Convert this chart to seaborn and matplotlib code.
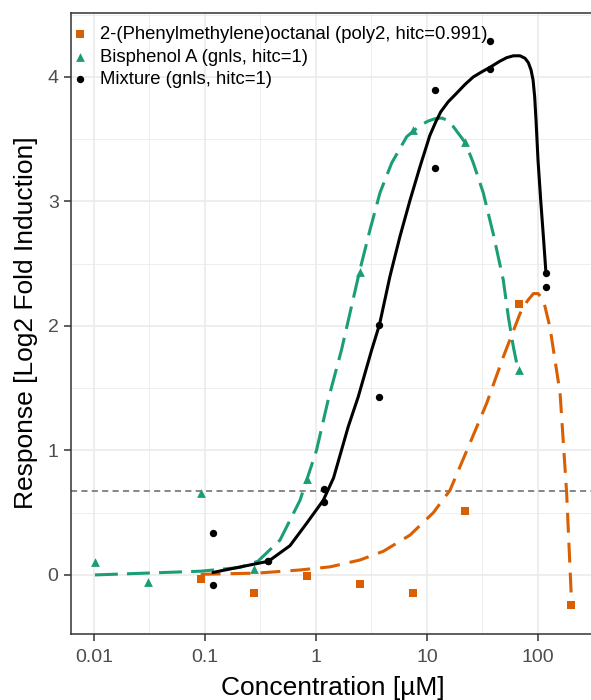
import matplotlib
matplotlib.use("Agg")
import matplotlib.pyplot as plt
import seaborn as sns
import pandas as pd
from matplotlib.ticker import FixedLocator, FixedFormatter, NullFormatter

# ---------------- data ----------------
series_labels = ["2-(Phenylmethylene)octanal (poly2, hitc=0.991)",
                 "Bisphenol A (gnls, hitc=1)",
                 "Mixture (gnls, hitc=1)"]

# observed responses
pmo_conc = [0.0914, 0.274, 0.823, 2.47, 7.41, 22.2, 66.7, 200]
pmo_resp = [-0.03, -0.145, -0.01, -0.07, -0.145, 0.51, 2.18, -0.244]

bpa_conc = [0.0102, 0.0305, 0.0914, 0.274, 0.823, 2.47, 7.41, 22.2, 66.7]
bpa_resp = [0.10, -0.06, 0.66, 0.05, 0.77, 2.43, 3.57, 3.48, 1.65]

mix_conc = [0.118, 0.118, 0.373, 0.373, 1.18, 1.18, 3.73, 3.73,
            11.8, 11.8, 37.3, 37.3, 118, 118]
mix_resp = [0.337, -0.08, 0.115, 0.11, 0.69, 0.586, 2.008, 1.432,
            3.896, 3.272, 4.29, 4.067, 2.423, 2.311]

# fitted curves
pmo_fit_conc = [0.0914, 0.3, 0.72, 1.34, 2.49, 4.04, 7.03, 11.4, 16.1, 24.4,
                34.5, 48.6, 68.9, 80, 90.8, 100, 111.7, 128, 158, 181, 200]
pmo_fit_resp = [0.005, 0.015, 0.04, 0.065, 0.12, 0.19, 0.32, 0.50, 0.68, 1.06,
                1.38, 1.75, 2.10, 2.20, 2.26, 2.26, 2.21, 1.99, 1.46, 0.66, -0.20]

bpa_fit_conc = [0.0102, 0.0305, 0.0914, 0.206, 0.30, 0.474, 0.718, 1.01, 1.29,
                1.70, 2.47, 3.06, 3.77, 4.81, 6.56, 8.65, 10.2, 11.8, 13.6,
                15.0, 17.3, 22.2, 26.1, 32.1, 39.5, 48.6, 54.1, 60.0, 66.7]
bpa_fit_resp = [0.0, 0.015, 0.03, 0.06, 0.11, 0.28, 0.60, 1.0, 1.41,
                1.81, 2.44, 2.77, 3.07, 3.31, 3.52, 3.61, 3.645, 3.665, 3.67,
                3.655, 3.60, 3.47, 3.31, 3.07, 2.74, 2.37, 2.07, 1.83, 1.63]

mix_fit_conc = [0.118, 0.373, 0.583, 0.824, 1.164, 1.44, 1.95, 2.40, 3.18, 3.73,
                4.64, 5.71, 7.03, 8.65, 10.6, 12.0, 13.3, 15.5, 18.5, 22.0, 26.1,
                31.0, 37.3, 45.0, 52.2, 60.0, 68.9, 76.4, 81.8, 86.5, 90.2,
                93.3, 95.9, 100, 105.7, 111.7, 118]
mix_fit_resp = [0.02, 0.11, 0.235, 0.415, 0.60, 0.78, 1.19, 1.43, 1.81, 2.01,
                2.40, 2.72, 3.01, 3.28, 3.53, 3.64, 3.72, 3.80, 3.87, 3.94, 4.00,
                4.04, 4.08, 4.125, 4.155, 4.17, 4.17, 4.15, 4.115, 4.056, 3.976,
                3.84, 3.655, 3.33, 3.01, 2.72, 2.42]

cutoff = 0.677

x_ticks = [0.01, 0.1, 1, 10, 100]
x_ticklabels = ["0.01", "0.1", "1", "10", "100"]
x_minor = [0.0316, 0.316, 3.16, 31.6, 316]
y_ticks = [0, 1, 2, 3, 4]
y_minor = [0.5, 1.5, 2.5, 3.5, 4.5]

colors = ["#D95F02", "#1B9E77", "#000000"]

# ---------------- figure ----------------
sns.set_theme(style="white")
plt.rcParams['font.family'] = ['Liberation Sans', 'DejaVu Sans']

fig = plt.figure(figsize=(5.91, 7.0), dpi=100)
ax = fig.add_axes([0.1203, 0.0949, 0.8870, 0.8871])
ax.set_xscale('log')

pts = [(pmo_conc, pmo_resp, 's', 27),
       (bpa_conc, bpa_resp, '^', 40),
       (mix_conc, mix_resp, 'o', 28)]
for (c, r, m, s), lab, col in zip(pts, series_labels, colors):
    df = pd.DataFrame({"conc": c, "resp": r})
    sns.scatterplot(data=df, x="conc", y="resp", ax=ax, marker=m, s=s,
                    color=col, linewidth=0, label=lab, zorder=3)

fits = [(pmo_fit_conc, pmo_fit_resp, (0, (6.5, 3.3))),
        (bpa_fit_conc, bpa_fit_resp, (0, (7.5, 3))),
        (mix_fit_conc, mix_fit_resp, '-')]
for (c, r, ls), col in zip(fits, colors):
    df = pd.DataFrame({"conc": c, "resp": r})
    sns.lineplot(data=df, x="conc", y="resp", ax=ax, color=col, lw=2.2,
                 linestyle=ls, estimator=None, sort=False, legend=False,
                 zorder=4)

ax.axhline(cutoff, color="#666666", lw=1.1, linestyle=(0, (4, 2.8)), zorder=2)

ax.set_xlim(10 ** -2.206, 10 ** 2.516)
ax.set_ylim(-0.471, 4.517)

ax.xaxis.set_major_locator(FixedLocator(x_ticks))
ax.xaxis.set_major_formatter(FixedFormatter(x_ticklabels))
ax.xaxis.set_minor_locator(FixedLocator(x_minor))
ax.xaxis.set_minor_formatter(NullFormatter())
ax.yaxis.set_major_locator(FixedLocator(y_ticks))
ax.yaxis.set_minor_locator(FixedLocator(y_minor))
ax.yaxis.set_minor_formatter(NullFormatter())

ax.grid(which='major', color='#EBEBEB', lw=1.2, zorder=0)
ax.grid(which='minor', color='#EBEBEB', lw=0.6, zorder=0)
ax.set_axisbelow(True)

for sp in ax.spines.values():
    sp.set_color('#333333')
    sp.set_linewidth(1.1)
    sp.set_visible(True)

ax.tick_params(which='major', length=5, width=1.1, color='#333333',
               labelcolor='#4D4D4D', labelsize=14, pad=4,
               bottom=True, left=True)
ax.tick_params(axis='x', which='major', pad=6)
ax.tick_params(which='minor', length=0)

ax.set_xlabel("Concentration [µM]", fontsize=19, color='black', labelpad=7)
ax.set_ylabel("Response [Log2 Fold Induction]", fontsize=19, color='black',
              labelpad=7)

handles, labels = ax.get_legend_handles_labels()
leg = ax.legend(handles, labels, loc='upper left', bbox_to_anchor=(0.0, 0.978),
                frameon=False, fontsize=13.3, handlelength=1.0,
                handletextpad=0.57, labelspacing=0.29, borderpad=0,
                borderaxespad=0, markerscale=1.0)
for t in leg.get_texts():
    t.set_color('black')

fig.savefig("out.png", dpi=100)
